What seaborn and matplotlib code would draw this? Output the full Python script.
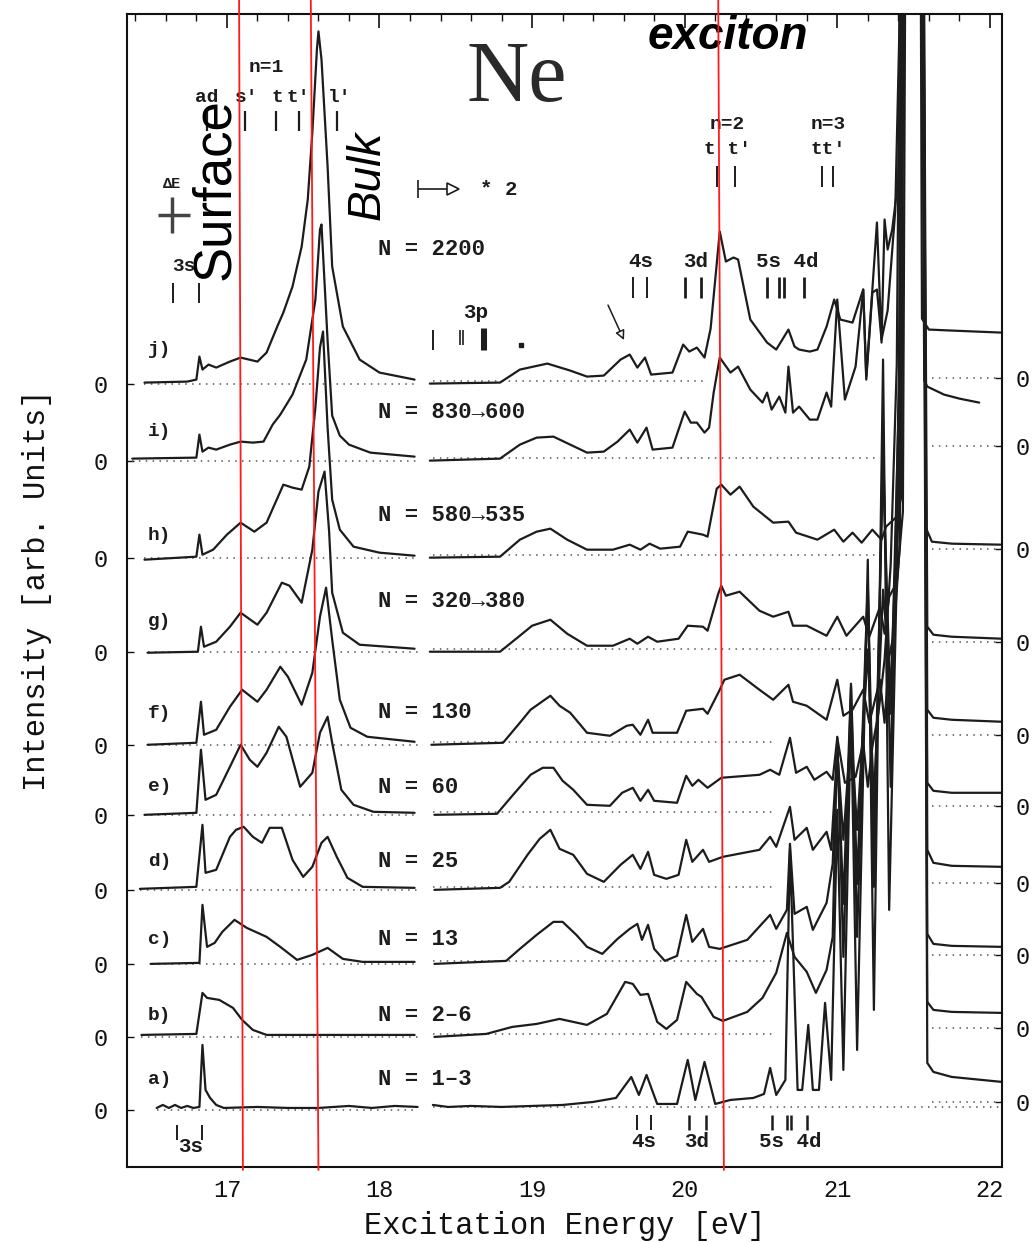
import numpy as np
import pandas as pd
import matplotlib
matplotlib.use('Agg')
import matplotlib.pyplot as plt
import seaborn as sns

# ---------------- data (energy in eV, intensity relative to each trace's zero) -------------
trace_names = ['a', 'b', 'c', 'd', 'e', 'f', 'g', 'h', 'i', 'j']
cluster_sizes = ['N = 1\u20133', 'N = 2\u20136', 'N = 13', 'N = 25', 'N = 60', 'N = 130',
                 'N = 320\u2192380', 'N = 580\u2192535', 'N = 830\u2192600', 'N = 2200']
zero_left = [5.7, 13.0, 20.3, 27.7, 35.2, 42.2, 51.5, 60.9, 70.6, 78.3]
zero_right = [6.5, 13.9, 21.2, 28.4, 36.1, 43.2, 52.5, 61.8, 72.1, 78.9]
dotted_mid_end = [22.08, 20.60, 20.60, 20.60, 20.58, 20.58, 21.28, 21.28, 21.28, 20.15]

# trace a) N = 1-3
a_L_E = [16.54, 16.58, 16.62, 16.66, 16.70, 16.74, 16.78, 16.82, 16.84, 16.86, 16.89, 16.93, 16.98, 17.20, 17.40, 17.60, 17.80, 17.95, 18.10, 18.25]
a_L_I = [0.2, 0.5, 0.2, 0.5, 0.2, 0.4, 0.2, 0.3, 6.5, 2.0, 1.2, 0.5, 0.2, 0.3, 0.2, 0.2, 0.4, 0.2, 0.4, 0.3]
a_M_E = [18.35, 18.45, 18.60, 18.80, 19.00, 19.20, 19.40, 19.55, 19.65, 19.70, 19.75, 19.82, 19.95, 20.02, 20.07, 20.13, 20.20, 20.30, 20.45, 20.52, 20.56, 20.60, 20.66, 20.69, 20.74, 20.77, 20.81, 20.84, 20.88, 20.92, 20.96, 21.00, 21.04, 21.09, 21.13, 21.20, 21.24, 21.30, 21.34, 21.40, 21.44, 21.56, 21.59, 21.63, 21.75, 22.08]
a_M_I = [0.5, 0.3, 0.4, 0.3, 0.4, 0.5, 0.8, 1.2, 3.3, 1.5, 3.5, 0.6, 0.6, 5.0, 1.0, 4.8, 0.6, 1.0, 1.2, 1.6, 4.2, 1.5, 3.0, 26, 2.0, 2.0, 8.5, 2.0, 2.0, 10.7, 3.0, 30, 4, 40, 6, 55, 10, 75, 20, 60, 120, 120, 4.7, 3.8, 3.3, 2.8]

# trace b) N = 2-6
b_L_E = [16.44, 16.80, 16.84, 16.87, 16.95, 17.04, 17.10, 17.17, 17.26, 18.23]
b_L_I = [0.2, 0.3, 4.4, 3.9, 3.7, 2.9, 1.7, 0.7, 0.2, 0.2]
b_M_E = [18.36, 18.70, 18.87, 19.03, 19.18, 19.27, 19.36, 19.49, 19.61, 19.66, 19.71, 19.76, 19.82, 19.88, 19.95, 20.01, 20.08, 20.11, 20.19, 20.25, 20.41, 20.51, 20.60, 20.67, 20.72, 20.80, 20.86, 20.93, 20.97, 21.00, 21.04, 21.09, 21.13, 21.20, 21.24, 21.30, 21.35, 21.41, 21.45, 21.56, 21.59, 21.63, 21.75, 22.08]
b_M_I = [0.0, 0.3, 1.0, 1.3, 1.8, 1.5, 1.2, 2.3, 5.5, 5.3, 4.2, 4.3, 1.5, 0.8, 1.7, 5.5, 4.3, 4.0, 2.0, 1.6, 2.5, 3.9, 6.4, 10.4, 8.0, 6.5, 4.4, 6.7, 10, 30, 8, 35, 10, 45, 15, 60, 25, 70, 120, 120, 3.5, 2.7, 2.5, 2.4]

# trace c) N = 13
c_L_E = [16.50, 16.82, 16.84, 16.87, 16.92, 16.97, 17.05, 17.13, 17.26, 17.35, 17.46, 17.56, 17.66, 17.76, 17.89, 18.23]
c_L_I = [0.0, 0.1, 5.9, 1.7, 2.1, 3.2, 4.4, 3.6, 2.7, 1.7, 0.4, 0.9, 1.6, 0.5, 0.2, 0.2]
c_M_E = [18.36, 18.83, 18.92, 19.03, 19.14, 19.20, 19.29, 19.36, 19.46, 19.56, 19.64, 19.69, 19.72, 19.76, 19.80, 19.87, 19.95, 20.01, 20.05, 20.12, 20.16, 20.23, 20.41, 20.56, 20.60, 20.67, 20.69, 20.72, 20.80, 20.84, 20.93, 20.97, 21.00, 21.04, 21.09, 21.13, 21.20, 21.24, 21.30, 21.35, 21.41, 21.45, 21.56, 21.59, 21.63, 21.75, 22.08]
c_M_I = [0.0, 0.3, 1.5, 2.9, 4.2, 4.2, 2.9, 1.7, 1.0, 2.5, 3.5, 4.0, 2.4, 3.9, 1.5, 0.3, 0.8, 4.9, 2.2, 3.5, 1.7, 1.5, 2.4, 4.9, 3.5, 5.4, 12, 5, 5.7, 3.4, 6.1, 10, 22, 6, 28, 8, 38, 12, 50, 25, 60, 120, 120, 3.0, 2.0, 1.8, 1.7]

# trace d) N = 25
d_L_E = [16.43, 16.80, 16.84, 16.86, 16.93, 17.02, 17.06, 17.11, 17.17, 17.23, 17.28, 17.36, 17.43, 17.50, 17.56, 17.62, 17.66, 17.72, 17.79, 17.89, 18.23]
d_L_I = [0.1, 0.3, 6.5, 1.7, 2.0, 5.3, 6.0, 6.3, 5.3, 4.7, 6.2, 6.2, 3.0, 1.3, 2.3, 4.7, 5.3, 3.3, 1.2, 0.3, 0.2]
d_M_E = [18.36, 18.79, 18.85, 18.97, 19.05, 19.12, 19.18, 19.27, 19.36, 19.47, 19.58, 19.66, 19.71, 19.76, 19.80, 19.88, 19.96, 20.01, 20.05, 20.12, 20.16, 20.25, 20.49, 20.56, 20.60, 20.69, 20.72, 20.80, 20.84, 20.93, 20.96, 21.00, 21.04, 21.09, 21.13, 21.20, 21.24, 21.30, 21.35, 21.40, 21.43, 21.56, 21.59, 21.63, 21.75, 22.08]
d_M_I = [0.0, 0.2, 0.8, 3.5, 5.1, 6.0, 4.1, 3.5, 1.6, 0.8, 2.5, 3.5, 2.1, 3.8, 1.5, 1.1, 1.5, 5.0, 2.8, 4.0, 2.8, 3.3, 4.0, 5.3, 4.3, 8.3, 5.0, 6.2, 4.0, 5.8, 4.0, 14, 5, 16, 6, 24, 9, 30, 20, 40, 120, 120, 4.0, 2.7, 2.4, 2.3]

# trace e) N = 60
e_L_E = [16.46, 16.80, 16.83, 16.86, 16.93, 17.02, 17.09, 17.15, 17.20, 17.26, 17.34, 17.39, 17.48, 17.56, 17.61, 17.66, 17.69, 17.75, 17.83, 17.96, 18.23]
e_L_I = [0.0, 0.2, 6.5, 1.5, 2.0, 4.8, 7.0, 5.5, 4.8, 6.2, 8.8, 7.8, 2.8, 4.2, 8.2, 9.8, 7.2, 2.5, 1.0, 0.3, 0.2]
e_M_E = [18.36, 18.77, 18.87, 18.99, 19.07, 19.14, 19.20, 19.27, 19.36, 19.51, 19.59, 19.66, 19.71, 19.76, 19.80, 19.95, 20.01, 20.05, 20.09, 20.15, 20.24, 20.49, 20.56, 20.62, 20.69, 20.73, 20.80, 20.85, 20.93, 20.97, 21.00, 21.05, 21.12, 21.17, 21.20, 21.23, 21.27, 21.31, 21.35, 21.39, 21.43, 21.55, 21.59, 21.63, 21.75, 22.08]
e_M_I = [0.0, 0.1, 1.9, 4.0, 4.7, 4.7, 3.4, 2.5, 1.0, 0.9, 2.2, 2.7, 1.4, 2.5, 1.4, 1.2, 3.9, 2.9, 3.5, 2.7, 3.7, 4.0, 4.5, 4.0, 7.7, 4.2, 4.8, 3.5, 4.3, 3.5, 7.7, 3.2, 3.8, 7.2, 2.8, 6.8, 10.2, 15.5, 25, 45, 120, 120, 3.2, 2.4, 2.2, 2.2]

# trace f) N = 130
f_L_E = [16.48, 16.80, 16.83, 16.85, 16.93, 17.02, 17.10, 17.20, 17.26, 17.35, 17.40, 17.49, 17.56, 17.61, 17.65, 17.69, 17.74, 17.81, 17.92, 18.23]
f_L_I = [0.0, 0.2, 4.3, 1.0, 1.5, 3.8, 5.5, 4.3, 5.5, 7.8, 6.8, 4.0, 7.2, 12.8, 15.7, 10.5, 4.5, 1.7, 0.8, 0.3]
f_M_E = [18.34, 18.81, 18.92, 18.99, 19.12, 19.18, 19.25, 19.36, 19.51, 19.62, 19.66, 19.71, 19.76, 19.79, 19.95, 20.01, 20.12, 20.15, 20.23, 20.26, 20.36, 20.49, 20.58, 20.68, 20.71, 20.80, 20.93, 21.00, 21.04, 21.10, 21.17, 21.21, 21.28, 21.31, 21.34, 21.37, 21.41, 21.44, 21.55, 21.59, 21.63, 21.75, 22.08]
f_M_I = [0.0, 0.2, 2.2, 3.5, 4.9, 3.9, 3.2, 1.2, 0.9, 1.9, 2.0, 1.0, 2.5, 1.2, 1.2, 3.4, 3.6, 3.1, 5.5, 6.5, 7.0, 5.5, 4.5, 6.0, 4.3, 3.9, 2.5, 6.5, 2.9, 3.5, 5.5, 2.2, 6.5, 2.2, 8.8, 11, 20, 120, 120, 3.5, 2.7, 2.5, 2.3]

# trace g) N = 320->380
g_L_E = [16.48, 16.81, 16.83, 16.85, 16.93, 17.02, 17.09, 17.20, 17.26, 17.36, 17.41, 17.49, 17.56, 17.60, 17.64, 17.67, 17.69, 17.76, 17.87, 18.23]
g_L_I = [-0.1, 0.0, 2.5, 0.5, 1.0, 2.5, 3.9, 2.7, 3.9, 6.9, 6.6, 4.9, 10.2, 16.0, 18.0, 12.0, 5.9, 1.9, 0.7, 0.3]
g_M_E = [18.33, 18.79, 18.92, 19.00, 19.12, 19.23, 19.36, 19.53, 19.64, 19.69, 19.76, 19.82, 19.96, 20.02, 20.12, 20.15, 20.22, 20.24, 20.27, 20.36, 20.49, 20.58, 20.68, 20.71, 20.80, 20.93, 21.00, 21.06, 21.17, 21.21, 21.28, 21.31, 21.34, 21.39, 21.43, 21.46, 21.55, 21.59, 21.63, 21.75, 22.08]
g_M_I = [0.0, 0.0, 1.6, 2.6, 3.2, 1.8, 0.6, 0.6, 1.3, 0.8, 1.5, 1.0, 1.3, 2.6, 2.5, 2.1, 5.8, 6.6, 5.6, 6.0, 4.1, 3.5, 4.0, 2.6, 2.6, 1.6, 3.5, 1.6, 3.5, 1.5, 4.5, 1.8, 5.5, 6.9, 14, 120, 120, 2.5, 1.7, 1.5, 1.3]

# trace h) N = 580->535
h_L_E = [16.46, 16.80, 16.82, 16.84, 16.91, 17.00, 17.09, 17.18, 17.26, 17.37, 17.43, 17.49, 17.54, 17.58, 17.61, 17.63, 17.66, 17.69, 17.74, 17.83, 18.00, 18.23]
h_L_I = [-0.2, 0.1, 2.3, 0.3, 0.8, 2.3, 3.5, 2.6, 3.5, 7.3, 7.0, 6.8, 9.1, 15.0, 21.0, 22.6, 13.0, 5.8, 2.8, 1.1, 0.5, 0.2]
h_M_E = [18.33, 18.79, 18.92, 19.03, 19.12, 19.23, 19.36, 19.53, 19.64, 19.71, 19.77, 19.84, 19.97, 20.02, 20.12, 20.15, 20.21, 20.24, 20.30, 20.36, 20.45, 20.58, 20.68, 20.73, 20.87, 20.98, 21.04, 21.10, 21.16, 21.23, 21.29, 21.32, 21.39, 21.42, 21.45, 21.54, 21.58, 21.62, 21.75, 22.07]
h_M_I = [0.0, 0.1, 1.8, 2.6, 2.9, 1.8, 0.8, 0.8, 1.3, 0.8, 1.4, 0.9, 1.1, 2.6, 2.3, 2.1, 6.9, 7.3, 6.3, 7.1, 5.1, 3.5, 3.6, 2.5, 1.8, 2.8, 1.6, 2.5, 1.5, 2.8, 1.8, 3.1, 4.1, 6.1, 120, 120, 3.0, 1.6, 1.4, 1.3]

# trace i) N = 830->600
i_L_E = [16.38, 16.80, 16.82, 16.84, 16.88, 16.93, 17.02, 17.09, 17.17, 17.24, 17.30, 17.35, 17.43, 17.52, 17.58, 17.61, 17.62, 17.66, 17.69, 17.74, 17.80, 17.94, 18.23]
i_L_I = [0.2, 0.3, 2.6, 0.9, 1.3, 1.1, 1.6, 1.9, 1.8, 1.9, 3.6, 4.6, 6.6, 10.1, 16.1, 23.1, 23.6, 12.0, 4.5, 2.5, 1.6, 0.8, 0.4]
i_M_E = [18.33, 18.79, 18.92, 19.03, 19.14, 19.25, 19.36, 19.47, 19.56, 19.64, 19.69, 19.75, 19.79, 19.92, 20.00, 20.04, 20.08, 20.13, 20.16, 20.19, 20.23, 20.30, 20.35, 20.43, 20.51, 20.54, 20.57, 20.62, 20.66, 20.68, 20.71, 20.75, 20.82, 20.87, 20.93, 20.96, 21.00, 21.05, 21.12, 21.17, 21.19, 21.23, 21.26, 21.29, 21.33, 21.38, 21.41, 21.44, 21.53, 21.57, 21.59, 21.70, 21.80, 21.93]
i_M_I = [0.0, 0.2, 1.6, 2.3, 2.4, 1.6, 0.8, 0.9, 1.9, 3.1, 1.8, 3.3, 1.1, 1.3, 4.9, 3.8, 3.8, 2.8, 3.3, 6.8, 10.3, 8.8, 9.4, 7.1, 5.8, 6.8, 5.1, 6.4, 4.8, 9.4, 4.8, 5.4, 4.1, 4.1, 6.8, 5.4, 16.1, 6.1, 9.4, 17.1, 8.1, 16.8, 17.1, 12.1, 15, 25, 45, 120, 120, 8.0, 7.4, 6.6, 6.2, 5.8]

# trace j) N = 2200
j_L_E = [16.46, 16.74, 16.80, 16.82, 16.84, 16.88, 16.93, 17.02, 17.09, 17.20, 17.26, 17.33, 17.37, 17.43, 17.49, 17.53, 17.56, 17.59, 17.60, 17.62, 17.66, 17.69, 17.76, 17.87, 18.00, 18.23]
j_L_I = [0.1, 0.2, 0.4, 2.7, 1.4, 1.9, 1.6, 2.2, 2.6, 2.2, 3.1, 5.7, 7.1, 9.7, 13.7, 18.4, 25.1, 33.4, 35.2, 32.4, 21.7, 11.7, 5.7, 2.4, 1.1, 0.4]
j_M_E = [18.33, 18.79, 18.92, 19.10, 19.25, 19.36, 19.47, 19.58, 19.64, 19.69, 19.74, 19.78, 19.92, 19.99, 20.03, 20.08, 20.13, 20.17, 20.23, 20.27, 20.32, 20.35, 20.43, 20.54, 20.60, 20.64, 20.68, 20.72, 20.75, 20.82, 20.87, 20.93, 20.98, 21.02, 21.10, 21.17, 21.19, 21.23, 21.26, 21.29, 21.31, 21.33, 21.36, 21.40, 21.43, 21.45, 21.53, 21.555, 21.60, 21.75, 22.07]
j_M_I = [0.0, 0.1, 1.4, 2.0, 1.3, 0.7, 0.8, 2.4, 2.9, 1.6, 2.6, 0.9, 1.1, 3.9, 3.2, 3.6, 2.6, 5.5, 15.2, 12.2, 12.6, 12.4, 6.4, 4.1, 3.4, 4.4, 5.4, 3.7, 3.4, 3.2, 3.4, 5.7, 8.4, 6.4, 6.1, 9.4, 0.7, 9.4, 16.1, 4.1, 16.4, 13.4, 15.4, 20.4, 40, 120, 120, 6.5, 5.4, 5.3, 5.1]

segments = {
    'a': [(a_L_E, a_L_I), (a_M_E, a_M_I)], 'b': [(b_L_E, b_L_I), (b_M_E, b_M_I)],
    'c': [(c_L_E, c_L_I), (c_M_E, c_M_I)], 'd': [(d_L_E, d_L_I), (d_M_E, d_M_I)],
    'e': [(e_L_E, e_L_I), (e_M_E, e_M_I)], 'f': [(f_L_E, f_L_I), (f_M_E, f_M_I)],
    'g': [(g_L_E, g_L_I), (g_M_E, g_M_I)], 'h': [(h_L_E, h_L_I), (h_M_E, h_M_I)],
    'i': [(i_L_E, i_L_I), (i_M_E, i_M_I)], 'j': [(j_L_E, j_L_I), (j_M_E, j_M_I)],
}

rows = []
for k, name in enumerate(trace_names):
    for s, (E, I) in enumerate(segments[name]):
        for e_, i_ in zip(E, I):
            rows.append({'E': e_, 'y': zero_left[k] + i_, 'unit': f'{name}{s}'})
df = pd.DataFrame(rows)

# ---------------- figure ----------------
sns.set_theme(style='white')
plt.rcParams['font.family'] = ['Liberation Mono', 'DejaVu Sans']
plt.rcParams['axes.linewidth'] = 1.4

fig = plt.figure(figsize=(10.32, 12.42), dpi=100)
ax = fig.add_axes([0.123, 0.0604, 0.848, 0.928])
ax.set_xlim(16.345, 22.08)
ax.set_ylim(0, 115.2)

ink = '#1c1c1c'
mono = 'Liberation Mono'

# dotted zero lines
for k, name in enumerate(trace_names):
    start = segments[name][0][0][0]
    ax.hlines(zero_left[k], start, 18.25, colors='#555555', linestyles=(0, (1, 3.5)), lw=1.1)
    ax.hlines(zero_left[k] + 0.3, 18.35, dotted_mid_end[k], colors='#555555', linestyles=(0, (1, 3.5)), lw=1.1)
    ax.hlines(zero_right[k], 21.62, 22.08, colors='#555555', linestyles=(0, (1, 3.5)), lw=1.1)

sns.lineplot(data=df, x='E', y='y', units='unit', estimator=None, sort=False,
             color=ink, lw=1.6, ax=ax, legend=False)

# axes / ticks
for sp in ax.spines.values():
    sp.set_color('#111111')
    sp.set_linewidth(1.5)
ax.set_xticks([17, 18, 19, 20, 21, 22])
ax.set_xticks(np.arange(16.4, 22.01, 0.2), minor=True)
ax.tick_params(axis='x', which='major', direction='in', length=10, width=1.2, top=True,
               labelsize=17, pad=9, colors='#111111')
ax.tick_params(axis='x', which='minor', direction='in', length=5, width=1.0, top=True, colors='#111111')
ax.set_yticks(zero_left)
ax.set_yticklabels(['0'] * len(zero_left))
ax.tick_params(axis='y', which='major', direction='in', length=5, width=1.0, left=True,
               labelsize=17, pad=14, colors='#111111')
for lab in ax.get_xticklabels() + ax.get_yticklabels():
    lab.set_fontfamily(mono)

ax2 = ax.twinx()
ax2.set_ylim(ax.get_ylim())
ax2.set_yticks(zero_right)
ax2.set_yticklabels(['0'] * len(zero_right))
ax2.tick_params(axis='y', direction='in', length=5, width=1.0, right=True, labelsize=17, pad=10,
                colors='#111111')
for lab in ax2.get_yticklabels():
    lab.set_fontfamily(mono)
for sp in ax2.spines.values():
    sp.set_visible(False)

ax.set_xlabel('Excitation Energy [eV]', fontsize=22, family=mono, labelpad=6, color='#111111')
ax.set_ylabel('Intensity [arb. Units]', fontsize=22, family=mono, labelpad=30, color='#111111')
ax.grid(False)

# trace labels and cluster sizes
label_y = [8.7, 15.1, 22.7, 30.5, 38.0, 45.3, 54.5, 63.1, 73.5, 81.7]
n_y = [8.7, 15.1, 22.7, 30.5, 37.9, 45.4, 56.5, 65.1, 75.4, 91.7]
for k, name in enumerate(trace_names):
    ax.text(16.56, label_y[k], f'{name})', fontsize=14, family=mono, weight='bold',
            ha='center', va='center', color=ink)
    ax.text(17.99, n_y[k], cluster_sizes[k], fontsize=16, family=mono, weight='bold',
            ha='left', va='center', color=ink)

# big element symbol
ax.text(18.90, 108.6, 'Ne', fontsize=62, family='Liberation Serif', ha='center', va='center',
        color='#2a2a2a')

small = dict(family=mono, weight='bold', color=ink, ha='center', va='center')
# n=1 series
ax.text(17.26, 109.9, 'n=1', fontsize=14, **small)
for x_, t_ in zip([16.87, 17.13, 17.33, 17.47, 17.74], ['ad', "s'", 't', "t'", "l'"]):
    ax.text(x_, 106.9, t_, fontsize=14, **small)
ax.vlines([16.87, 17.12, 17.32, 17.47, 17.72], 103.5, 105.5, colors=ink, lw=1.6)
# Delta E cross
ax.text(16.64, 98.2, '\u0394E', fontsize=11, **small)
ax.vlines(16.64, 93.4, 96.9, colors='#444444', lw=2.5)
ax.hlines(95.2, 16.55, 16.76, colors='#444444', lw=2.5)
# 3s upper
ax.text(16.72, 90.0, '3s', fontsize=14, **small)
ax.vlines([16.65, 16.82], 86.4, 88.4, colors=ink, lw=1.4)
# x2 marker
ax.hlines(97.7, 18.25, 18.45, colors=ink, lw=1.2)
ax.vlines(18.25, 96.8, 98.6, colors=ink, lw=1.2)
ax.plot([18.48], [97.7], marker='>', ms=9, mfc='white', mec=ink, mew=1.2)
ax.text(18.66, 97.7, '* 2', fontsize=15, family=mono, weight='bold', color=ink, ha='left', va='center')
# 3p
ax.text(18.63, 85.4, '3p', fontsize=15, **small)
ax.vlines(18.35, 81.7, 83.7, colors=ink, lw=1.4)
ax.vlines([18.53, 18.55], 82.2, 83.7, colors=ink, lw=1.2)
ax.vlines([18.67, 18.69], 81.7, 83.9, colors=ink, lw=2.2)
ax.plot([18.93], [82.2], marker='s', ms=2.5, color=ink)
# arrow to shoulder
ax.annotate('', xy=(19.61, 82.4), xytext=(19.49, 86.4),
            arrowprops=dict(arrowstyle='-|>', fc='white', ec=ink, lw=1.1, mutation_scale=14))
# upper Rydberg labels
ax.text(19.71, 90.5, '4s', fontsize=15, **small)
ax.vlines([19.66, 19.75], 86.9, 89.0, colors=ink, lw=1.4)
ax.text(20.07, 90.5, '3d', fontsize=15, **small)
ax.vlines([20.00, 20.11], 86.9, 89.0, colors=ink, lw=2.0)
ax.text(20.67, 90.5, '5s 4d', fontsize=15, **small)
ax.vlines([20.54, 20.62, 20.65, 20.78], 86.9, 89.0, colors=ink, lw=2.0)
ax.text(20.28, 104.2, 'n=2', fontsize=14, **small)
ax.text(20.28, 101.7, "t t'", fontsize=14, **small)
ax.vlines([20.21, 20.33], 97.9, 100.0, colors=ink, lw=1.4)
ax.text(20.94, 104.2, 'n=3', fontsize=14, **small)
ax.text(20.94, 101.7, "tt'", fontsize=14, **small)
ax.vlines([20.90, 20.97], 97.9, 100.0, colors=ink, lw=1.4)
# bottom labels
ax.text(16.76, 2.0, '3s', fontsize=15, **small)
ax.vlines([16.67, 16.84], 2.7, 4.2, colors=ink, lw=1.4)
ax.text(19.73, 2.5, '4s', fontsize=15, **small)
ax.vlines([19.69, 19.78], 3.7, 5.2, colors=ink, lw=1.4)
ax.text(20.08, 2.5, '3d', fontsize=15, **small)
ax.vlines([20.03, 20.14], 3.7, 5.2, colors=ink, lw=1.8)
ax.text(20.69, 2.5, '5s 4d', fontsize=15, **small)
ax.vlines([20.57, 20.67, 20.70, 20.80], 3.7, 5.2, colors=ink, lw=1.8)

# red guide lines
for (xt, xb) in [(17.08, 17.105), (17.55, 17.60), (20.22, 20.257)]:
    ax.plot([xt, xb], [116.7, -0.3], color='#ff1a1a', lw=1.3, clip_on=False, zorder=5)

# overlay annotations
ax.text(16.92, 97.7, 'Surface', fontsize=38, family='Liberation Sans', rotation=90,
        ha='center', va='center', color='black')
ax.text(17.92, 99.1, 'Bulk', fontsize=33, family='Liberation Sans', style='italic', rotation=90,
        ha='center', va='center', color='black')
ax.text(20.28, 112.9, 'exciton', fontsize=33, family='Liberation Sans', style='italic',
        weight='bold', ha='center', va='center', color='black', clip_on=False)

fig.savefig('out.png', dpi=100, facecolor='white')
